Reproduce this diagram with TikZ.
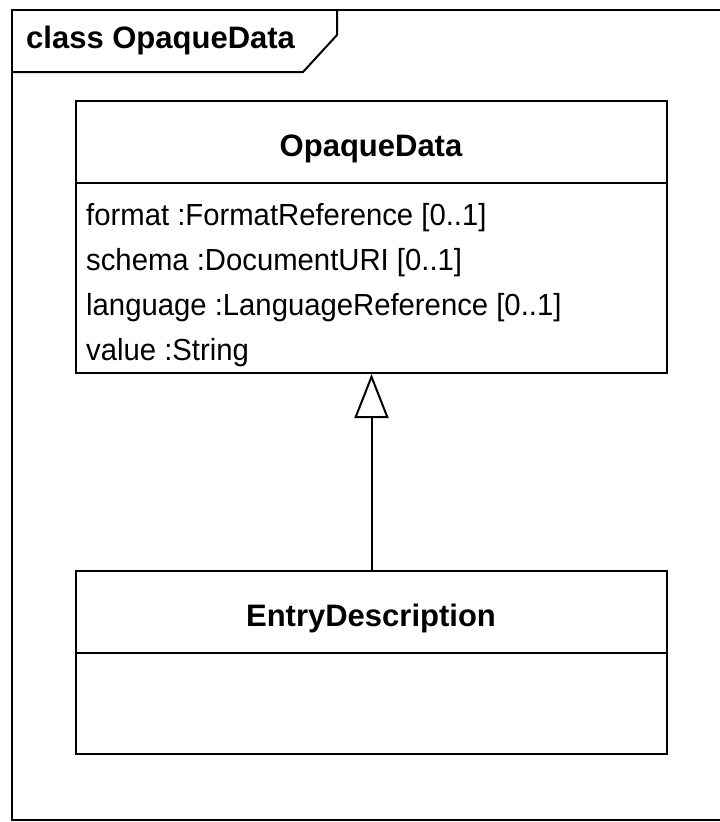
\documentclass[tikz,border=0pt]{standalone}
\usepackage{fontspec}
\setmainfont{Liberation Sans}
\newfontfamily\attrfont[FakeStretch=0.96]{Liberation Sans}
\usetikzlibrary{arrows.meta}

\tikzset{
  umlline/.style={draw=black, line width=2pt},
  classbox/.style={umlline, fill=white, rectangle, inner sep=0pt, anchor=north west},
  classname/.style={font=\fontsize{31}{36}\selectfont\bfseries, inner sep=0pt, anchor=base},
  attr/.style={font=\attrfont\fontsize{30.5}{36}\selectfont, inner sep=0pt, anchor=base west},
  frametitle/.style={font=\fontsize{31}{36}\selectfont\bfseries, inner sep=0pt, anchor=base west},
  generalization/.style={umlline, -{Triangle[open, length=44pt, width=34pt, fill=white]}}
}

\begin{document}
\begin{tikzpicture}[x=1pt, y=-1pt]
  \useasboundingbox (0,0) rectangle (720,822);

  % package frame, open on the right
  \draw[umlline] (730,10) -- (12,10) -- (12,820) -- (730,820);
  \draw[umlline] (12,72) -- (303,72) -- (337,35) -- (337,10);
  \node[frametitle] (ftitle) at (26,48) {class OpaqueData};

  % class OpaqueData
  \node[classbox, minimum width=591pt, minimum height=272pt] (od) at (75,100) {};
  \draw[umlline] (75,183) -- (666,183);
  \node[classname] (odname) at (371,156) {OpaqueData};
  \node[attr] (a1) at (86,225) {format :FormatReference [0..1]};
  \node[attr] (a2) at (86,270) {schema :DocumentURI [0..1]};
  \node[attr] (a3) at (86,315) {language :LanguageReference [0..1]};
  \node[attr] (a4) at (86,360) {value :String};

  % class EntryDescription
  \node[classbox, minimum width=591pt, minimum height=183pt] (ed) at (75,570) {};
  \draw[umlline] (75,653) -- (666,653);
  \node[classname] (edname) at (371,626) {EntryDescription};

  % generalization EntryDescription -> OpaqueData
  \draw[generalization] (ed.north) -- (od.south);
\end{tikzpicture}
\end{document}
